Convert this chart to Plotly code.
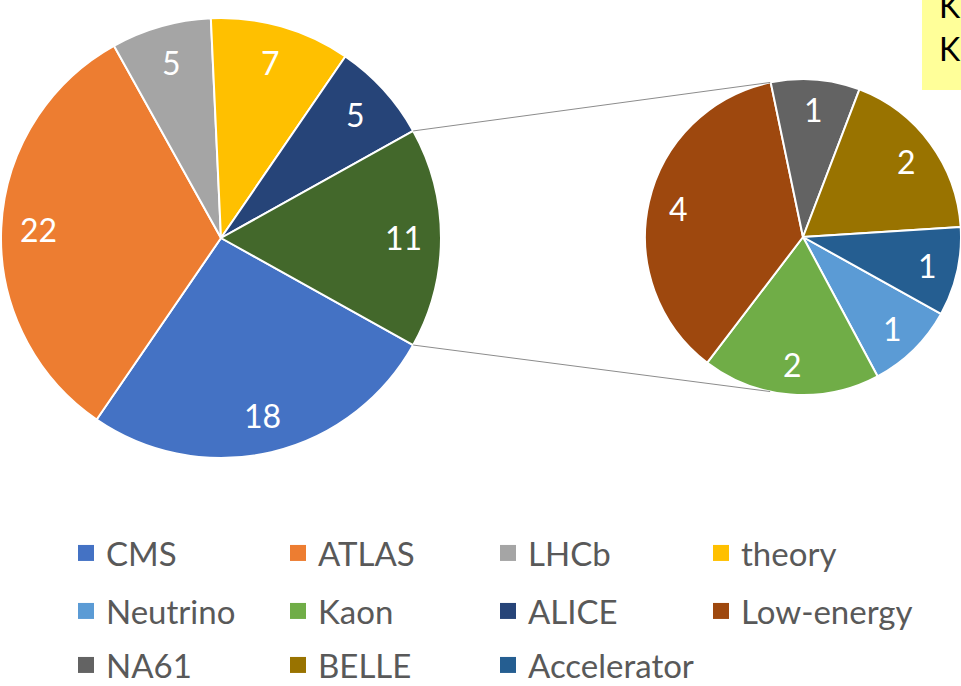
import math
import plotly.graph_objects as go

# ---------------- data ----------------
main_categories = ["CMS", "ATLAS", "LHCb", "theory", "ALICE"]
main_values = [18, 22, 5, 7, 5]
sub_categories = ["Neutrino", "Kaon", "Low-energy", "NA61", "BELLE", "Accelerator"]
sub_values = [1, 2, 4, 1, 2, 1]
other_label = "Other"
legend_order = ["CMS", "ATLAS", "LHCb", "theory",
                "Neutrino", "Kaon", "ALICE", "Low-energy",
                "NA61", "BELLE", "Accelerator"]
box_lines = ["K", "K"]

colors = {
    "CMS": "#4472C4", "ATLAS": "#ED7D31", "LHCb": "#A5A5A5", "theory": "#FFC000",
    "ALICE": "#264478", "Other": "#43682B", "Neutrino": "#5B9BD5", "Kaon": "#70AD47",
    "Low-energy": "#9E480E", "NA61": "#636363", "BELLE": "#997300", "Accelerator": "#255E91",
}

W, H = 961, 686
FONT = "Lato, 'Open Sans', Arial, sans-serif"


def px_x(x):
    return x / W


def px_y(y):
    return 1 - y / H


other_total = sum(sub_values)
main_labels = main_categories + [other_label]
main_vals = main_values + [other_total]
grand = sum(main_vals)
# Excel pie-of-pie: the aggregated slice is centred on 3 o'clock
rotation = 90 + (other_total / 2) / grand * 360

C1, R1 = (221, 238), 220
C2, R2 = (803, 237), 158

fig = go.Figure()


def domain_for(C, R):
    return dict(x=[px_x(C[0] - R), px_x(C[0] + R)], y=[px_y(C[1] + R), px_y(C[1] - R)])


fig.add_trace(go.Pie(
    labels=main_labels, values=main_vals, sort=False, direction="clockwise",
    rotation=rotation, textinfo="none", showlegend=False,
    marker=dict(colors=[colors[c] for c in main_labels], line=dict(color="white", width=2)),
    domain=domain_for(C1, R1), hoverinfo="label+value",
))
fig.add_trace(go.Pie(
    labels=sub_categories, values=sub_values, sort=False, direction="clockwise",
    rotation=rotation, textinfo="none", showlegend=False,
    marker=dict(colors=[colors[c] for c in sub_categories], line=dict(color="white", width=2)),
    domain=domain_for(C2, R2), hoverinfo="label+value",
))


def add_value_labels(vals, C, R, frac):
    total = sum(vals)
    cum = 0
    for v in vals:
        mid = math.radians(rotation + (cum + v / 2) / total * 360)
        cum += v
        x = C[0] + frac * R * math.sin(mid)
        y = C[1] - frac * R * math.cos(mid)
        fig.add_annotation(x=px_x(x), y=px_y(y), xref="paper", yref="paper", text=str(v),
                           xanchor="center", yanchor="middle", showarrow=False,
                           font=dict(color="white", size=32, family=FONT))


add_value_labels(main_vals, C1, R1, 0.83)
add_value_labels(sub_values, C2, R2, 0.81)

# connector lines from the aggregated slice to the secondary pie
other_deg = other_total / grand * 360
a_top = math.radians(rotation - other_deg)
a_bot = math.radians(rotation)
b_top = math.radians(-12)
b_bot = math.radians(192)
for a, b in ((a_top, b_top), (a_bot, b_bot)):
    x0 = C1[0] + R1 * math.sin(a); y0 = C1[1] - R1 * math.cos(a)
    x1 = C2[0] + R2 * math.sin(b); y1 = C2[1] - R2 * math.cos(b)
    fig.add_shape(type="line", xref="paper", yref="paper",
                  x0=px_x(x0), y0=px_y(y0), x1=px_x(x1), y1=px_y(y1),
                  line=dict(color="#8C8C8C", width=1))

# yellow text box at top-right (cut off by the frame)
fig.add_shape(type="rect", xref="paper", yref="paper", x0=px_x(922), x1=1.05,
              y0=px_y(90), y1=1.05, fillcolor="#FFFF99", line=dict(width=0), layer="below")
for txt, yc in zip(box_lines, (6, 49)):
    fig.add_annotation(x=px_x(937), y=px_y(yc), xref="paper", yref="paper", text=txt,
                       xanchor="left", yanchor="middle", showarrow=False,
                       font=dict(color="black", size=32, family=FONT))

# legend: one single-item legend per entry, laid out on a 4-column grid
col_x = [86, 298, 508, 721]
row_y = [553, 611, 665]
for i, cat in enumerate(legend_order):
    name = "legend" if i == 0 else f"legend{i + 1}"
    fig.add_trace(go.Scatter(
        x=[None], y=[None], mode="markers", name=cat, legend=name,
        marker=dict(symbol="square", size=16, color=colors[cat]),
    ))
    r, c = divmod(i, 4)
    fig.update_layout({name: dict(
        x=px_x(col_x[c] - 20), y=px_y(row_y[r]), xanchor="left", yanchor="middle",
        font=dict(size=33, color="#595959", family=FONT), bgcolor="rgba(0,0,0,0)",
        borderwidth=0, orientation="h",
    )})

fig.update_layout(
    width=W, height=H, margin=dict(l=0, r=0, t=0, b=0, autoexpand=False),
    paper_bgcolor="white", plot_bgcolor="white",
    xaxis=dict(visible=False), yaxis=dict(visible=False),
)

fig.write_html(
    "out.html",
    config={"displayModeBar": False},
    post_script="document.body.style.margin='0px';document.body.style.overflow='hidden';",
)
